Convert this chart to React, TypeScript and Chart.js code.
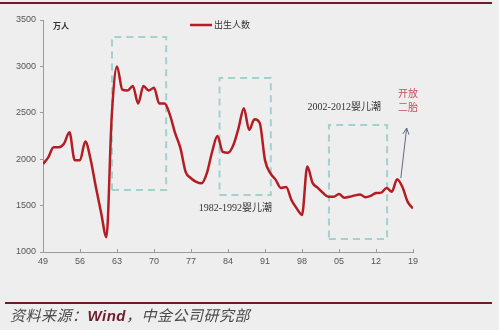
import React, { useEffect, useRef } from "react";
import { Chart, registerables } from "chart.js";

Chart.register(...registerables);

// ---- data ----
const years: number[] = [
  1949, 1950, 1951, 1952, 1953, 1954, 1955, 1956, 1957, 1958,
  1959, 1960, 1961, 1962, 1963, 1964, 1965, 1966, 1967, 1968,
  1969, 1970, 1971, 1972, 1973, 1974, 1975, 1976, 1977, 1978,
  1979, 1980, 1981, 1982, 1983, 1984, 1985, 1986, 1987, 1988,
  1989, 1990, 1991, 1992, 1993, 1994, 1995, 1996, 1997, 1998,
  1999, 2000, 2001, 2002, 2003, 2004, 2005, 2006, 2007, 2008,
  2009, 2010, 2011, 2012, 2013, 2014, 2015, 2016, 2017, 2018, 2019,
];
const births: number[] = [
  1950, 2020, 2130, 2130, 2170, 2290, 1990, 1990, 2190, 2000,
  1700, 1420, 1160, 2460, 3000, 2750, 2740, 2790, 2600, 2790,
  2740, 2770, 2600, 2600, 2480, 2280, 2120, 1860, 1795, 1755,
  1740, 1850, 2080, 2250, 2080, 2070, 2150, 2335, 2550, 2315,
  2430, 2390, 1990, 1850, 1780, 1690, 1700, 1560, 1470, 1400,
  1920, 1745, 1690, 1635, 1595, 1595, 1625, 1585, 1595, 1610,
  1620, 1590, 1605, 1635, 1640, 1690, 1650, 1785, 1700, 1540, 1470,
];
const xTickYears: number[] = [1949, 1956, 1963, 1970, 1977, 1984, 1991, 1998, 2005, 2012, 2019];
const yTicks: number[] = [1000, 1500, 2000, 2500, 3000, 3500];

const seriesName = "出生人数";
const unitLabel = "万人";

// dashed boxes: [x0, x1, y0, y1] in data units
const box1: number[] = [1962.05, 1972.3, 1668, 3317];
const box2: number[] = [1982.4, 1992.1, 1614, 2875];
const box3: number[] = [2003.1, 2014.1, 1140, 2369];

const note1 = "1982-1992婴儿潮";
const note1Pos: number[] = [1985.4, 1474];
const note2 = "2002-2012婴儿潮";
const note2Pos: number[] = [2006.0, 2562];
const note3Lines: string[] = ["开放", "二胎"];
const note3Pos: number[] = [2018.05, 2713, 2562];
const arrowFrom: number[] = [2016.7, 1797];
const arrowTo: number[] = [2017.8, 2336];

const boxPoints = (b: number[]) => [
  { x: b[0], y: b[2] },
  { x: b[1], y: b[2] },
  { x: b[1], y: b[3] },
  { x: b[0], y: b[3] },
  { x: b[0], y: b[2] },
];

const BOX_COLOR = "#a3d1cd";
const LINE_COLOR = "#b41d23";
const AXIS_COLOR = "#9a9a9a";

const annotPlugin = {
  id: "annot",
  afterDraw(chart: any) {
    const { ctx, chartArea } = chart;
    const xs = chart.scales.x;
    const ys = chart.scales.y;
    ctx.save();
    // inward x ticks
    ctx.strokeStyle = AXIS_COLOR;
    ctx.lineWidth = 1;
    xTickYears.forEach((v) => {
      const px = Math.round(xs.getPixelForValue(v)) + 0.5;
      ctx.beginPath();
      ctx.moveTo(px, chartArea.bottom);
      ctx.lineTo(px, chartArea.bottom - 3);
      ctx.stroke();
    });

    // unit label
    ctx.fillStyle = "#333";
    ctx.font = "bold 8px 'Noto Sans CJK SC'";
    ctx.textBaseline = "middle";
    ctx.textAlign = "left";
    ctx.fillText(unitLabel, chartArea.left + 10, chartArea.top + 6);

    // legend
    ctx.strokeStyle = LINE_COLOR;
    ctx.lineWidth = 2.5;
    ctx.beginPath();
    ctx.moveTo(190, chartArea.top + 5);
    ctx.lineTo(212, chartArea.top + 5);
    ctx.stroke();
    ctx.fillStyle = "#333";
    ctx.font = "9px 'Noto Sans CJK SC'";
    ctx.fillText(seriesName, 214, chartArea.top + 5);

    // annotations
    ctx.textAlign = "center";
    ctx.fillStyle = "#333";
    ctx.font = "10px 'Liberation Serif', 'Noto Sans CJK SC'";
    ctx.fillText(note1, xs.getPixelForValue(note1Pos[0]), ys.getPixelForValue(note1Pos[1]));
    ctx.fillText(note2, xs.getPixelForValue(note2Pos[0]), ys.getPixelForValue(note2Pos[1]));
    ctx.fillStyle = "#c4505c";
    ctx.font = "10px 'Noto Sans CJK SC'";
    ctx.fillText(note3Lines[0], xs.getPixelForValue(note3Pos[0]), ys.getPixelForValue(note3Pos[1]));
    ctx.fillText(note3Lines[1], xs.getPixelForValue(note3Pos[0]), ys.getPixelForValue(note3Pos[2]));

    // arrow
    const ax0 = xs.getPixelForValue(arrowFrom[0]);
    const ay0 = ys.getPixelForValue(arrowFrom[1]);
    const ax1 = xs.getPixelForValue(arrowTo[0]);
    const ay1 = ys.getPixelForValue(arrowTo[1]);
    ctx.strokeStyle = "#5e6a7e";
    ctx.lineWidth = 1;
    ctx.beginPath();
    ctx.moveTo(ax0, ay0);
    ctx.lineTo(ax1, ay1);
    ctx.stroke();
    const ang = Math.atan2(ay1 - ay0, ax1 - ax0);
    const hl = 7;
    ctx.beginPath();
    ctx.moveTo(ax1 - hl * Math.cos(ang - 0.45), ay1 - hl * Math.sin(ang - 0.45));
    ctx.lineTo(ax1, ay1);
    ctx.lineTo(ax1 - hl * Math.cos(ang + 0.45), ay1 - hl * Math.sin(ang + 0.45));
    ctx.stroke();
    ctx.restore();
  },
};

export default function App() {
  const ref = useRef<HTMLCanvasElement | null>(null);

  useEffect(() => {
    document.body.style.margin = "0";
    const canvas = ref.current;
    if (!canvas) return;
    const boxStyle = {
      type: "line" as const,
      borderColor: BOX_COLOR,
      borderWidth: 2,
      borderDash: [7, 5],
      pointRadius: 0,
      fill: false,
      tension: 0,
      order: 2,
    };
    const chart = new Chart(canvas, {
      type: "line",
      data: {
        datasets: [
          {
            label: seriesName,
            data: years.map((y, i) => ({ x: y, y: births[i] })),
            borderColor: LINE_COLOR,
            borderWidth: 2.5,
            pointRadius: 0,
            cubicInterpolationMode: "monotone",
            fill: false,
            order: 1,
          },
          { ...boxStyle, label: "b1", data: boxPoints(box1) },
          { ...boxStyle, label: "b2", data: boxPoints(box2) },
          { ...boxStyle, label: "b3", data: boxPoints(box3) },
        ],
      },
      options: {
        animation: false,
        responsive: false,
        layout: { padding: { left: 0, right: 86, top: 20, bottom: 58 } },
        plugins: { legend: { display: false }, tooltip: { enabled: false } },
        scales: {
          x: {
            type: "linear",
            min: 1949,
            max: 2019,
            afterBuildTicks: (s: any) => {
              s.ticks = xTickYears.map((v) => ({ value: v }));
            },
            afterFit: (s: any) => {
              s.height = 20;
            },
            ticks: {
              autoSkip: false,
              maxRotation: 0,
              padding: 4,
              color: "#555",
              font: { family: "'Liberation Sans'", size: 9 },
              callback: (v: any) => String(Number(v) % 100).padStart(2, "0"),
            },
            grid: { display: true, drawOnChartArea: false, drawTicks: false },
            border: { display: true, color: AXIS_COLOR, width: 1 },
          },
          y: {
            type: "linear",
            min: 1000,
            max: 3500,
            afterBuildTicks: (s: any) => {
              s.ticks = yTicks.map((v) => ({ value: v }));
            },
            afterFit: (s: any) => {
              s.width = 43;
            },
            ticks: {
              padding: 4,
              color: "#555",
              font: { family: "'Liberation Sans'", size: 9 },
              callback: (v: any) => String(v),
            },
            grid: { display: true, drawOnChartArea: false, drawTicks: true, tickLength: 3, color: AXIS_COLOR },
            border: { display: true, color: AXIS_COLOR, width: 1 },
          },
        },
      },
      plugins: [annotPlugin],
    } as any);
    return () => chart.destroy();
  }, []);

  return (
    <div
      style={{
        position: "fixed",
        left: 0,
        top: 0,
        width: 499,
        height: 330,
        background: "#eeeeee",
        overflow: "hidden",
      }}
    >
      <div style={{ position: "absolute", left: 0, top: 2, width: 492, height: 2, background: "#6e1d27" }} />
      <canvas ref={ref} width={499} height={330} style={{ position: "absolute", left: 0, top: 0 }} />
      <div style={{ position: "absolute", left: 5, top: 302, width: 487, height: 2, background: "#6e1d27" }} />
      <div
        style={{
          position: "absolute",
          left: 10,
          top: 306,
          height: 18,
          lineHeight: "18px",
          fontSize: 15,
          fontStyle: "italic",
          fontFamily: "'Noto Sans CJK SC', sans-serif",
          color: "#4a4a4a",
          whiteSpace: "nowrap",
          letterSpacing: 0.5,
        }}
      >
        资料来源：
        <span style={{ fontFamily: "'Liberation Sans', sans-serif", fontWeight: "bold", color: "#6e1d2d" }}>Wind</span>
        ，中金公司研究部
      </div>
    </div>
  );
}
